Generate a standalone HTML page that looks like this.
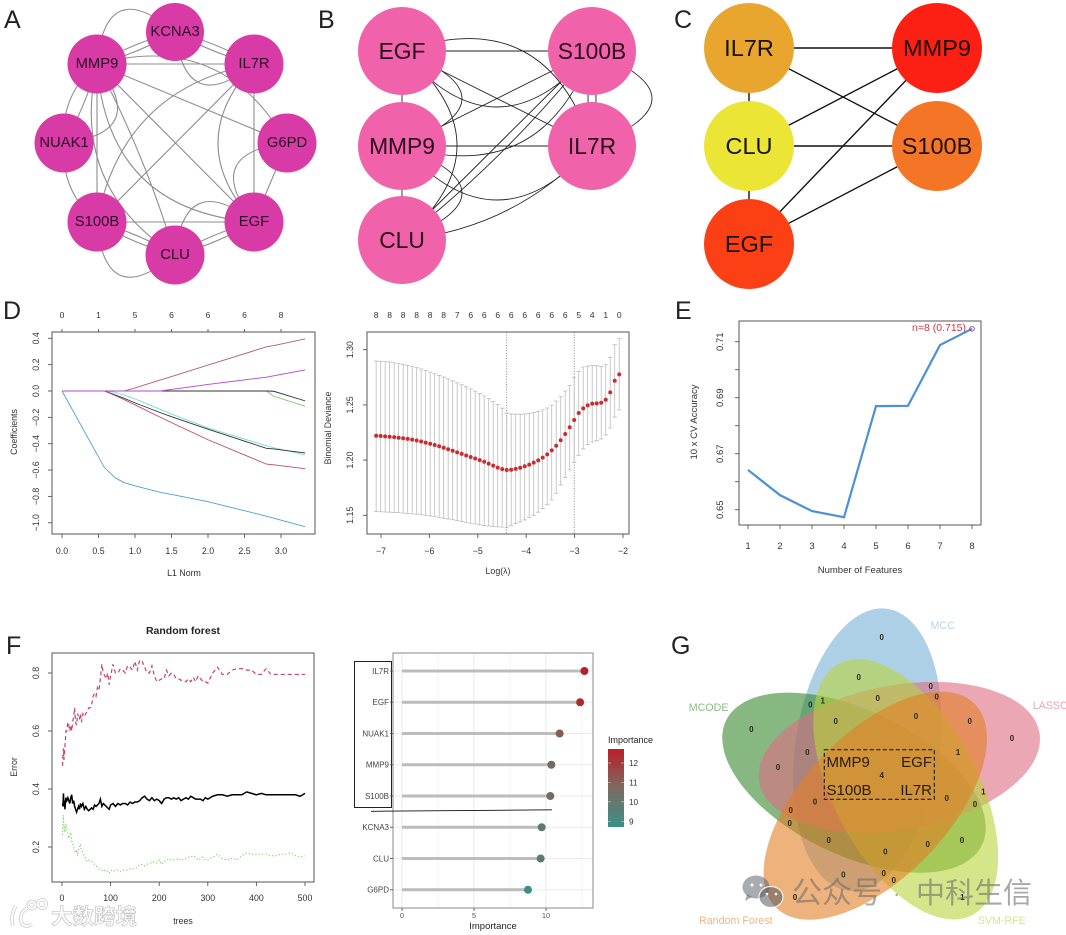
<!DOCTYPE html>
<html lang="en">
<head>
<meta charset="utf-8">
<title>Multi-panel gene analysis figure</title>
<style>
html,body{margin:0;padding:0;background:#fff;}
svg{display:block;font-family:"Liberation Sans","Noto Sans CJK SC",sans-serif;filter:blur(.3px);}
.pl{font-size:25px;fill:#222;}
.at{font-size:8.8px;fill:#333;}
.vn{font-size:8px;font-weight:bold;fill:#2a2a1a;text-anchor:middle;dominant-baseline:central;}
.vl{font-size:10.7px;}
.box{fill:none;stroke:#555;stroke-width:1;}
.nA{fill:#d83aa6;}
.nB{fill:#f062a9;}
.tA{font-size:14.8px;fill:#2c0c28;text-anchor:middle;dominant-baseline:central;}
.tB{font-size:22.8px;fill:#2a0c20;text-anchor:middle;dominant-baseline:central;}
.tC{font-size:23.5px;fill:#1c1008;text-anchor:middle;dominant-baseline:central;}
</style>
</head>
<body>
<svg id="fig" xmlns="http://www.w3.org/2000/svg" width="1066" height="935" viewBox="0 0 1066 935">
<defs>
<linearGradient id="impGrad" x1="0" y1="0" x2="0" y2="1">
<stop offset="0" stop-color="#b81f2a"/><stop offset=".5" stop-color="#7d6a62"/><stop offset="1" stop-color="#3a9088"/>
</linearGradient>
</defs>

<text class="pl" x="4" y="28">A</text>
<text class="pl" x="318" y="28">B</text>
<text class="pl" x="674" y="28">C</text>
<text class="pl" x="3" y="319">D</text>
<text class="pl" x="675" y="319">E</text>
<text class="pl" x="6" y="654">F</text>
<text class="pl" x="671" y="654">G</text>

<!-- Network A -->
<g id="netA">
<g id="edgesA"></g>
<circle class="nA" data-node="KCNA3" cx="175" cy="32" r="29"/>
<circle class="nA" data-node="MMP9" cx="97" cy="64" r="29.5"/>
<circle class="nA" data-node="IL7R" cx="254" cy="64" r="29.5"/>
<circle class="nA" data-node="NUAK1" cx="64" cy="143" r="29.5"/>
<circle class="nA" data-node="G6PD" cx="287" cy="143" r="29.5"/>
<circle class="nA" data-node="S100B" cx="97" cy="222" r="29.5"/>
<circle class="nA" data-node="EGF" cx="254" cy="222" r="29.5"/>
<circle class="nA" data-node="CLU" cx="175" cy="255" r="29.5"/>
<text class="tA" x="175" y="32">KCNA3</text>
<text class="tA" x="97" y="64">MMP9</text>
<text class="tA" x="254" y="64">IL7R</text>
<text class="tA" x="64" y="143">NUAK1</text>
<text class="tA" x="287" y="143">G6PD</text>
<text class="tA" x="97" y="222">S100B</text>
<text class="tA" x="254" y="222">EGF</text>
<text class="tA" x="175" y="255">CLU</text>
</g>

<!-- Network B -->
<g id="netB">
<g id="edgesB"></g>
<circle class="nB" data-node="EGF" cx="402" cy="51" r="44"/>
<circle class="nB" data-node="MMP9" cx="402" cy="146" r="44"/>
<circle class="nB" data-node="CLU" cx="402" cy="240" r="44"/>
<circle class="nB" data-node="S100B" cx="592" cy="51" r="44"/>
<circle class="nB" data-node="IL7R" cx="592" cy="146" r="44"/>
<text class="tB" x="402" y="51">EGF</text>
<text class="tB" x="402" y="146">MMP9</text>
<text class="tB" x="402" y="240">CLU</text>
<text class="tB" x="592" y="51">S100B</text>
<text class="tB" x="592" y="146">IL7R</text>
</g>

<!-- Network C -->
<g id="netC">
<g id="edgesC"></g>
<circle data-node="IL7R" cx="749" cy="48" r="45" fill="#e8a62e"/>
<circle data-node="CLU" cx="749" cy="146" r="45" fill="#ebe536"/>
<circle data-node="EGF" cx="749" cy="244" r="45" fill="#fb4015"/>
<circle data-node="MMP9" cx="937" cy="48" r="45" fill="#fb2013"/>
<circle data-node="S100B" cx="937" cy="146" r="45" fill="#f57527"/>
<text class="tC" x="749" y="48">IL7R</text>
<text class="tC" x="749" y="146">CLU</text>
<text class="tC" x="749" y="244">EGF</text>
<text class="tC" x="937" y="48">MMP9</text>
<text class="tC" x="937" y="146">S100B</text>
</g>

<!-- Panel D left -->
<g id="coefPlot">
<rect class="box" x="52" y="332" width="263" height="202"/>
<text class="at" transform="translate(17 432) rotate(-90)" text-anchor="middle">Coefficients</text>
<text class="at" x="184" y="576" text-anchor="middle">L1 Norm</text>
</g>

<!-- Panel D right -->
<g id="devPlot">
<rect class="box" x="367" y="332" width="262" height="202"/>
<text class="at" transform="translate(331 428) rotate(-90)" text-anchor="middle">Binomial Deviance</text>
<text class="at" x="498" y="574" text-anchor="middle">Log(λ)</text>
</g>

<!-- Panel E -->
<g id="rfePlot">
<rect class="box" x="739" y="321" width="242" height="204"/>
<text class="at" transform="translate(697 422) rotate(-90)" text-anchor="middle" style="font-size:9.5px">10 x CV Accuracy</text>
<text class="at" x="860" y="573" text-anchor="middle" style="font-size:9.5px">Number of Features</text>
<text x="966" y="331" text-anchor="end" font-size="10.5" fill="#cc3a44">n=8 (0.715)</text>
</g>

<!-- Panel F left -->
<g id="rfPlot">
<text x="183" y="634" text-anchor="middle" font-size="10.5" font-weight="bold" fill="#222">Random forest</text>
<rect class="box" x="52" y="653" width="262" height="229"/>
<text class="at" transform="translate(17 767) rotate(-90)" text-anchor="middle">Error</text>
<text class="at" x="183" y="924" text-anchor="middle">trees</text>
</g>

<!-- Panel F right -->
<g id="lolliPlot">
<g id="lolliGrid"></g>
<rect x="393" y="653" width="200" height="255" fill="none" stroke="#8a8a8a" stroke-width="1"/>
<text x="493" y="929" text-anchor="middle" font-size="9.5" fill="#222">Importance</text>
<text x="608" y="743" font-size="9" fill="#222">Importance</text>
<rect x="608" y="749" width="16" height="78" fill="url(#impGrad)"/>
<rect x="354.5" y="661.5" width="37" height="146" fill="none" stroke="#222" stroke-width="1"/>
<line x1="371" y1="811.3" x2="552" y2="809.8" stroke="#111" stroke-width=".9"/>
</g>

<!-- Panel G -->
<g id="venn">
<ellipse cx="867.3" cy="749.7" rx="142.3" ry="72.3" transform="rotate(98 867.3 749.7)" fill="#78b1d5" fill-opacity=".6"/>
<ellipse cx="854" cy="782.7" rx="142.3" ry="72.3" transform="rotate(26 854 782.7)" fill="#37892f" fill-opacity=".6"/>
<ellipse cx="899.3" cy="757.3" rx="142.3" ry="72.3" transform="rotate(-10 899.3 757.3)" fill="#de6e82" fill-opacity=".6"/>
<ellipse cx="905.7" cy="789.3" rx="142.3" ry="72.3" transform="rotate(62 905.7 789.3)" fill="#b9d43c" fill-opacity=".6"/>
<ellipse cx="875.3" cy="805.7" rx="142.3" ry="72.3" transform="rotate(-46 875.3 805.7)" fill="#e37f25" fill-opacity=".6"/>
<text class="vl" x="942.7" y="629" text-anchor="middle" fill="#b5d4e8">MCC</text>
<text class="vl" x="1032.7" y="709" fill="#eaa6b2">LASSO</text>
<text class="vl" x="688.7" y="711" fill="#8cbc88">MCODE</text>
<text class="vl" x="699" y="924" fill="#eeb680">Random Forest</text>
<text class="vl" x="977.7" y="924" fill="#d6e68c">SVM-RFE</text>
<g>
<text class="vn" x="881.7" y="637.3">0</text>
<text class="vn" x="858.7" y="677.3">0</text>
<text class="vn" x="930.7" y="686.7">0</text>
<text class="vn" x="936.7" y="697">0</text>
<text class="vn" x="877.7" y="698.7">0</text>
<text class="vn" x="810.3" y="705">0</text>
<text class="vn" x="822.7" y="701">1</text>
<text class="vn" x="835.7" y="721.7">0</text>
<text class="vn" x="916" y="716.3">0</text>
<text class="vn" x="969.7" y="721.7">0</text>
<text class="vn" x="1012" y="738.7">0</text>
<text class="vn" x="751.3" y="729.3">0</text>
<text class="vn" x="807.3" y="752.3">0</text>
<text class="vn" x="778" y="767.7">0</text>
<text class="vn" x="958" y="752.3">1</text>
<text class="vn" x="881.7" y="775.7">4</text>
<text class="vn" x="946.7" y="798.3">0</text>
<text class="vn" x="983.3" y="792">1</text>
<text class="vn" x="975" y="804.3">0</text>
<text class="vn" x="815" y="802">0</text>
<text class="vn" x="790.7" y="810.7">0</text>
<text class="vn" x="789.7" y="823.7">0</text>
<text class="vn" x="828.7" y="840.3">0</text>
<text class="vn" x="885.3" y="852">0</text>
<text class="vn" x="927.7" y="844.3">0</text>
<text class="vn" x="962" y="840.3">0</text>
<text class="vn" x="843.3" y="875">0</text>
<text class="vn" x="883.7" y="873.3">0</text>
<text class="vn" x="893.7" y="880.3">0</text>
<text class="vn" x="795" y="897.7">0</text>
<text class="vn" x="962.3" y="897.7">1</text>
</g>
<rect x="824.3" y="749.7" width="110" height="49.6" fill="none" stroke="#1a1a1a" stroke-width="1.1" stroke-dasharray="4 2.5"/>
<text x="826.5" y="767" font-size="15" fill="#2a1a08">MMP9</text>
<text x="932" y="767" font-size="15" fill="#2a1a08" text-anchor="end">EGF</text>
<text x="826.5" y="795" font-size="15" fill="#2a1a08">S100B</text>
<text x="932" y="795" font-size="15" fill="#2a1a08" text-anchor="end">IL7R</text>
</g>

<!-- Watermarks -->
<g>
<g>
<ellipse cx="756" cy="887" rx="13.5" ry="11.5" fill="#55585c" fill-opacity=".5"/>
<path d="M747 894l-2 7 7-4z" fill="#55585c" fill-opacity=".5"/>
<ellipse cx="771" cy="897" rx="12" ry="10.5" fill="#55585c" fill-opacity=".55" stroke="#fff" stroke-opacity=".85" stroke-width="1.2"/>
<circle cx="752" cy="885" r="1.5" fill="#fff"/>
<circle cx="761" cy="885" r="1.5" fill="#fff"/>
<circle cx="767" cy="894" r="1.3" fill="#fff"/>
<circle cx="776" cy="894" r="1.3" fill="#fff"/>
</g>
<text x="792" y="903" font-size="30" fill="#6e6e6e" fill-opacity=".6" font-family="'Noto Sans CJK SC',sans-serif">公众号</text>
<text x="893" y="901" font-size="22" fill="#6e6e6e" fill-opacity=".6">·</text>
<text x="916" y="903" font-size="29" fill="#6e6e6e" fill-opacity=".6" font-family="'Noto Sans CJK SC',sans-serif">中科生信</text>
</g>
<g>
<g fill="none" stroke="#cfcfcf" stroke-width="3.6">
<path d="M16 906 Q10 915 13 926"/>
<path d="M27 908 Q18 914 22 924 Q26 928 32 924"/>
<circle cx="32" cy="905" r="3.6"/>
<circle cx="42" cy="904" r="4.2"/>
</g>
<g fill="none" stroke="#fff" stroke-width="1.9">
<path d="M16 906 Q10 915 13 926"/>
<path d="M27 908 Q18 914 22 924 Q26 928 32 924"/>
<circle cx="32" cy="905" r="3.6"/>
<circle cx="42" cy="904" r="4.2"/>
</g>
<text x="51" y="924" font-size="21.5" font-weight="bold" fill="#fff" stroke="#c4c4c4" stroke-width=".7" font-family="'Noto Sans CJK SC',sans-serif">大数跨境</text>
</g>
</svg>

<script>
// ---------- Network edges: [from, to, bend] ----------
const edgesANet = [
["MMP9","KCNA3",3],["MMP9","KCNA3",-3],["MMP9","KCNA3",40],
["KCNA3","IL7R",3],["KCNA3","IL7R",-3],["KCNA3","IL7R",-38],
["MMP9","IL7R",0],["MMP9","G6PD",0],["MMP9","G6PD",40],
["MMP9","EGF",0],["MMP9","EGF",-48],["MMP9","CLU",5],["MMP9","CLU",-36],
["MMP9","S100B",0],["IL7R","EGF",0],["S100B","EGF",0],["S100B","IL7R",0],
["S100B","IL7R",38],["IL7R","EGF",-36],["G6PD","EGF",0],["G6PD","EGF",-38],
["EGF","CLU",-38],["EGF","CLU",3],["EGF","CLU",-3],
["S100B","CLU",3],["S100B","CLU",-3],["S100B","CLU",-40],
["MMP9","NUAK1",-11],["MMP9","NUAK1",3],["MMP9","NUAK1",38],["NUAK1","S100B",-11]
];
const edgesBNet = [
["EGF","MMP9",0],["MMP9","CLU",0],["EGF","S100B",0],["MMP9","IL7R",0],
["S100B","IL7R",4],["S100B","IL7R",-4],["S100B","IL7R",60],
["EGF","IL7R",0],["EGF","IL7R",54],["EGF","S100B",-56],["EGF","MMP9",60],["EGF","CLU",55],
["MMP9","S100B",0],["MMP9","S100B",-50],["MMP9","CLU",60],["MMP9","IL7R",-54],
["CLU","S100B",0],["CLU","S100B",-8],["CLU","IL7R",-20]
];
const edgesCNet = [
["IL7R","CLU",0],["CLU","EGF",0],["IL7R","MMP9",0],["CLU","S100B",0],
["CLU","MMP9",0],["IL7R","S100B",0],["EGF","MMP9",0],["EGF","S100B",0]
];

// ---------- Panel D left: LASSO coefficient paths ----------
const l1Norm =       [0, .58, .73, .85, 1.0, 1.35, 1.5, 2.0, 2.8, 2.9, 3.33];
const coefBlue =     [0,-.58,-.66,-.695,-.72,-.77,-.785,-.84,-.95,-.965,-1.03];
const coefMaroonUp = [0, 0, 0, 0, .023, .084, .11, .197, .335, .345, .395];
const coefPurple =   [0, 0, 0, 0, 0, 0, .012, .05, .105, .115, .16];
const coefGreen =    [0, 0, 0, 0, 0, 0, 0, 0, 0, -.04, -.115];
const coefBlackTop = [0, 0, 0, 0, 0, 0, 0, 0, 0, -.002, -.075];
const coefCyan =     [0, 0, -.01, -.03, -.06, -.14, -.175, -.28, -.415, -.43, -.485];
const coefBlackMid = [0, 0, -.03, -.055, -.09, -.165, -.195, -.29, -.435, -.44, -.47];
const coefMaroonLow =[0, 0, -.035, -.065, -.105, -.2, -.24, -.37, -.555, -.56, -.59];
const coefTopLabels = ["0","1","5","6","6","6","8"];
const coefXTicks = [0,.5,1,1.5,2,2.5,3];
const coefXLabels = ["0.0","0.5","1.0","1.5","2.0","2.5","3.0"];
const coefYTicks = [-1,-.8,-.6,-.4,-.2,0,.2,.4];
const coefYLabels = ["−1.0","−0.8","−0.6","−0.4","−0.2","0.0","0.2","0.4"];

// ---------- Panel D right: cross-validated deviance ----------
const logLambda = [-7.10,-7.007,-6.914,-6.821,-6.728,-6.635,-6.542,-6.449,-6.356,-6.263,-6.17,-6.077,-5.984,-5.891,-5.798,-5.705,-5.612,-5.519,-5.426,-5.333,-5.24,-5.147,-5.054,-4.961,-4.868,-4.775,-4.682,-4.589,-4.496,-4.403,-4.31,-4.217,-4.124,-4.031,-3.938,-3.845,-3.752,-3.659,-3.566,-3.473,-3.38,-3.287,-3.194,-3.101,-3.008,-2.915,-2.822,-2.729,-2.636,-2.543,-2.45,-2.357,-2.264,-2.171,-2.078];
const devMean = [1.222,1.2218,1.2215,1.2212,1.2208,1.2203,1.2198,1.2192,1.2185,1.2177,1.2168,1.2158,1.2148,1.2137,1.2125,1.2112,1.2098,1.2085,1.207,1.2056,1.2042,1.2028,1.2014,1.2,1.1985,1.1968,1.195,1.1932,1.1918,1.191,1.1913,1.192,1.1931,1.1944,1.1959,1.1977,1.1998,1.2022,1.2052,1.2088,1.213,1.218,1.2236,1.2297,1.2363,1.2427,1.2469,1.2496,1.2511,1.2514,1.252,1.2547,1.2614,1.2719,1.2777];
const devUpper = [1.2897,1.2895,1.2892,1.2888,1.2882,1.2875,1.2867,1.2858,1.2848,1.2837,1.2825,1.2812,1.2797,1.2782,1.2767,1.2752,1.2735,1.2718,1.27,1.2682,1.2664,1.2645,1.2625,1.2604,1.2582,1.2558,1.2532,1.2505,1.247,1.2425,1.2418,1.2416,1.2416,1.2418,1.2424,1.2432,1.2442,1.2455,1.2472,1.2497,1.2535,1.2574,1.2626,1.2677,1.2746,1.2804,1.2843,1.2852,1.2858,1.2855,1.2846,1.2864,1.2931,1.3045,1.31];
const devLower = [1.1533,1.1532,1.153,1.1528,1.1526,1.1524,1.152,1.1517,1.1513,1.151,1.1505,1.15,1.1494,1.1488,1.1481,1.1474,1.1467,1.146,1.1452,1.1444,1.1436,1.1428,1.1421,1.1414,1.1408,1.1403,1.1398,1.1395,1.1393,1.1393,1.1405,1.1425,1.144,1.1458,1.1478,1.15,1.1528,1.156,1.1595,1.164,1.17,1.1775,1.1844,1.191,1.198,1.2043,1.2101,1.214,1.2164,1.2176,1.2191,1.2227,1.2291,1.239,1.2454];
const devTopLabels = ["8","8","8","8","8","8","7","6","6","6","6","6","6","6","6","5","4","1","0"];
const devVLines = [-4.403,-3.008];
const devXTicks = [-7,-6,-5,-4,-3,-2];
const devXLabels = ["−7","−6","−5","−4","−3","−2"];
const devYTicks = [1.15,1.2,1.25,1.3];
const devYLabels = ["1.15","1.20","1.25","1.30"];

// ---------- Panel E: SVM-RFE ----------
const rfeFeatures = [1,2,3,4,5,6,7,8];
const rfeAccuracy = [.6642,.6552,.6495,.6473,.687,.6871,.7088,.7146];
const rfeYTicks = [.65,.66,.67,.68,.69,.70,.71];
const rfeYLabels = ["0.65","","0.67","","0.69","","0.71"];

// ---------- Panel F left: random forest error ----------
const rfTrees = [1,2,3,4,5,6,7,8,
10,12,14,16,18,20,22,24,26,28,30,32,34,36,38,40,
43,46,49,52,55,58,61,64,67,70,73,76,79,82,85,88,91,94,97,100,
105,110,115,120,125,130,135,140,145,150,155,160,165,170,175,180,185,190,195,200,205,210,215,220,225,230,235,240,245,250,255,260,265,270,275,280,285,290,295,300,
310,320,330,340,350,360,370,380,390,400,410,420,430,440,450,460,470,480,490,500];
const rfErrRed = [.48,.52,.54,.50,.52,.55,.57,.60,
.60,.63,.62,.60,.62,.60,.63,.65,.68,.63,.62,.66,.65,.64,.66,.63,
.66,.65,.66,.67,.68,.68,.69,.72,.73,.72,.75,.74,.78,.83,.80,.79,.78,.80,.76,.79,
.83,.80,.80,.815,.81,.80,.825,.82,.81,.84,.81,.845,.84,.82,.80,.80,.825,.79,.77,.775,.78,.78,.81,.79,.80,.795,.78,.78,.775,.775,.77,.78,.77,.785,.77,.79,.78,.77,.77,.765,
.80,.82,.795,.795,.81,.815,.815,.81,.81,.795,.795,.815,.795,.795,.795,.795,.795,.795,.795,.795];
const rfErrOob = [.35,.34,.385,.34,.36,.33,.35,.37,
.36,.37,.36,.35,.37,.38,.35,.36,.34,.33,.32,.33,.34,.33,.35,.34,
.35,.33,.34,.33,.325,.33,.335,.33,.345,.34,.345,.35,.365,.34,.35,.345,.34,.335,.33,.345,
.35,.34,.35,.345,.35,.35,.345,.355,.35,.355,.355,.36,.37,.375,.365,.36,.37,.36,.365,.36,.35,.365,.37,.37,.365,.37,.365,.37,.36,.365,.37,.365,.375,.37,.365,.365,.365,.36,.37,.365,
.375,.38,.38,.375,.38,.38,.38,.39,.385,.38,.385,.38,.38,.38,.38,.38,.38,.38,.375,.385];
const rfErrGreen = [.24,.29,.31,.26,.27,.25,.26,.28,
.26,.25,.23,.24,.25,.22,.21,.20,.19,.18,.19,.17,.19,.20,.21,.19,
.18,.17,.16,.15,.155,.15,.15,.145,.14,.135,.13,.125,.12,.12,.115,.12,.12,.115,.11,.12,
.115,.12,.12,.115,.12,.12,.12,.125,.125,.125,.13,.14,.14,.135,.14,.145,.145,.15,.145,.155,.14,.15,.155,.16,.155,.155,.16,.155,.16,.155,.16,.165,.165,.17,.165,.155,.16,.165,.155,.155,
.165,.175,.16,.155,.16,.155,.17,.18,.175,.175,.175,.175,.17,.17,.175,.175,.18,.17,.165,.17];
const rfXTicks = [0,100,200,300,400,500];
const rfYTicks = [.2,.4,.6,.8];
const rfYLabels = ["0.2","0.4","0.6","0.8"];

// ---------- Panel F right: importance ----------
const impGenes = ["IL7R","EGF","NUAK1","MMP9","S100B","KCNA3","CLU","G6PD"];
const impValues = [12.67,12.37,10.95,10.37,10.3,9.7,9.63,8.75];
const impXTicks = [0,5,10];
const impMinorTicks = [2.5,7.5,12.5];
const impLegendTicks = [9,10,11,12];

// ---------- helpers ----------
const NS = "http://www.w3.org/2000/svg";
function scale(d0, d1, r0, r1){ return v => r0 + (v - d0) * (r1 - r0) / (d1 - d0); }
function make(parent, tag, attrs, txt){
  const e = document.createElementNS(NS, tag);
  for (const k in attrs) e.setAttribute(k, attrs[k]);
  if (txt !== undefined) e.textContent = txt;
  parent.appendChild(e);
  return e;
}
function tick(g, x1, y1, x2, y2){
  const t = make(g, "line", {x1, y1, x2, y2, stroke: "#555", "stroke-width": .9});
  
  
}
function tickLabel(g, x, y, str, size, rotated, fill){
  const attrs = {"text-anchor": "middle", "font-size": size, fill: fill || "#333"};
  if (rotated) attrs.transform = "translate(" + x + " " + y + ") rotate(-90)";
  else { attrs.x = x; attrs.y = y; }
  const t = make(g, "text", attrs, str);
  
  
}
function linePath(xs, ys, fx, fy){
  return xs.map((v, i) => (i ? "L" : "M") + fx(v).toFixed(2) + " " + fy(ys[i]).toFixed(2)).join("");
}

// ---------- networks ----------
function drawNet(netId, edgeId, edges, stroke, width){
  const net = document.getElementById(netId), g = document.getElementById(edgeId), pos = {};
  net.querySelectorAll("circle[data-node]").forEach(c => {
    pos[c.getAttribute("data-node")] = [+c.getAttribute("cx"), +c.getAttribute("cy")];
  });
  edges.forEach(ed => {
    const a = pos[ed[0]], b = pos[ed[1]];
    const dx = b[0] - a[0], dy = b[1] - a[1], len = Math.hypot(dx, dy);
    const cx = (a[0] + b[0]) / 2 + 2 * ed[2] * dy / len;
    const cy = (a[1] + b[1]) / 2 - 2 * ed[2] * dx / len;
    const p = make(g, "path", {d: "M" + a[0] + " " + a[1] + "Q" + cx + " " + cy + " " + b[0] + " " + b[1], fill: "none", stroke, "stroke-width": width});
    
    
  });
}
drawNet("netA", "edgesA", edgesANet, "#8e8e8e", 1.1);
drawNet("netB", "edgesB", edgesBNet, "#222", .9);
drawNet("netC", "edgesC", edgesCNet, "#111", 1.4);

// ---------- coefficient plot ----------
(function(){
  const g = document.getElementById("coefPlot");
  const x = scale(0, 3, 62, 281), y = scale(0, .4, 391, 338.3);
  coefXTicks.forEach((v, i) => {
    tick(g, x(v), 534, x(v), 538);
    tickLabel(g, x(v), 554, coefXLabels[i], 8.8);
  });
  coefTopLabels.forEach((s, i) => {
    const tx = x(coefXTicks[i]);
    tick(g, tx, 332, tx, 329);
    tickLabel(g, tx, 318, s, 8.5);
  });
  coefYTicks.forEach((v, i) => {
    tick(g, 52, y(v), 48, y(v));
    tickLabel(g, 39, y(v), coefYLabels[i], 8.8, true);
  });
  const seriesList = [coefGreen, coefBlackTop, coefCyan, coefBlackMid, coefMaroonLow, coefBlue, coefMaroonUp, coefPurple];
  const colors = ["#78cc5c", "#333", "#7adada", "#333", "#bd4a68", "#4f9fd0", "#b05a80", "#b048c8"];
  seriesList.forEach((s, i) => {
    const p = make(g, "path", {d: linePath(l1Norm, s, x, y), fill: "none", stroke: colors[i], "stroke-width": .9});
    
    
  });
})();

// ---------- deviance plot ----------
(function(){
  const g = document.getElementById("devPlot");
  const x = scale(-7, -2, 381, 623), y = scale(1.15, 1.3, 515.3, 349.7);
  devXTicks.forEach((v, i) => {
    tick(g, x(v), 534, x(v), 538);
    tickLabel(g, x(v), 554, devXLabels[i], 8.8);
  });
  devYTicks.forEach((v, i) => {
    tick(g, 367, y(v), 363, y(v));
    tickLabel(g, 353, y(v), devYLabels[i], 8.8, true);
  });
  devTopLabels.forEach((s, i) => {
    tickLabel(g, x(logLambda[i * 3]), 318, s, 8.5);
  });
  devVLines.forEach(v => {
    const l = make(g, "line", {x1: x(v), y1: 332, x2: x(v), y2: 534, stroke: "#666", "stroke-width": .8, "stroke-dasharray": "1 1.6"});
    
    
  });
  logLambda.forEach((v, i) => {
    const cx = x(v);
    const bar = make(g, "path", {
      d: "M" + cx + " " + y(devLower[i]) + "V" + y(devUpper[i]) +
         "M" + (cx - 2.2) + " " + y(devLower[i]) + "h4.4M" + (cx - 2.2) + " " + y(devUpper[i]) + "h4.4",
      fill: "none", stroke: "#bcbcbc", "stroke-width": .8});
    
    
  });
  logLambda.forEach((v, i) => {
    const c = make(g, "circle", {cx: x(v), cy: y(devMean[i]), r: 2, fill: "#cb2b30"});
    
    
  });
})();

// ---------- RFE plot ----------
(function(){
  const g = document.getElementById("rfePlot");
  const x = scale(1, 8, 748, 972), y = scale(.65, .71, 509.7, 341.7);
  rfeFeatures.forEach(v => {
    tick(g, x(v), 525, x(v), 529);
    tickLabel(g, x(v), 549, String(v), 9.5);
  });
  rfeYTicks.forEach((v, i) => {
    tick(g, 739, y(v), 735, y(v));
    if (rfeYLabels[i]) tickLabel(g, 723, y(v), rfeYLabels[i], 9.5, true);
  });
  const p = make(g, "path", {d: linePath(rfeFeatures, rfeAccuracy, x, y), fill: "none", stroke: "#4b90d8", "stroke-width": 2.2});
  
  
  const last = rfeFeatures.length - 1;
  const c = make(g, "circle", {cx: x(rfeFeatures[last]), cy: y(rfeAccuracy[last]), r: 2.3, fill: "none", stroke: "#8a3fa0", "stroke-width": .9});
  
  
})();

// ---------- random forest ----------
(function(){
  const g = document.getElementById("rfPlot");
  const x = scale(0, 500, 62, 305), y = scale(.2, .8, 847, 673);
  rfXTicks.forEach(v => {
    tick(g, x(v), 882, x(v), 886);
    tickLabel(g, x(v), 901, String(v), 8.8);
  });
  rfYTicks.forEach((v, i) => {
    tick(g, 52, y(v), 48, y(v));
    tickLabel(g, 39, y(v), rfYLabels[i], 8.8, true);
  });
  const red = make(g, "path", {d: linePath(rfTrees, rfErrRed, x, y), fill: "none", stroke: "#c5446b", "stroke-width": 1.2, "stroke-dasharray": "4 3"});
  
  
  const green = make(g, "path", {d: linePath(rfTrees, rfErrGreen, x, y), fill: "none", stroke: "#78d060", "stroke-width": 1.1, "stroke-dasharray": "1.2 2.2"});
  
  
  const oob = make(g, "path", {d: linePath(rfTrees, rfErrOob, x, y), fill: "none", stroke: "#000", "stroke-width": 1.5});
  
  
})();

// ---------- lollipop ----------
(function(){
  const g = document.getElementById("lolliPlot"), grid = document.getElementById("lolliGrid");
  const x = scale(0, 10, 402, 546);
  const rowY = i => 671 + i * 31.25;
  function mix(a, b, t){ return a.map((v, i) => Math.round(v + (b[i] - v) * t)); }
  function colorFor(v){
    const lo = [56, 144, 136], mid = [128, 100, 88], hi = [184, 30, 40];
    const c = v < 10.7 ? mix(lo, mid, Math.max(0, (v - 8.75) / 1.95)) : mix(mid, hi, Math.min(1, (v - 10.7) / 2));
    return "rgb(" + c.join(",") + ")";
  }
  impMinorTicks.forEach(v => {
    const l = make(grid, "line", {x1: x(v), y1: 653, x2: x(v), y2: 908, stroke: "#f1f1f1", "stroke-width": .8});
    
    
  });
  impXTicks.forEach(v => {
    const l = make(grid, "line", {x1: x(v), y1: 653, x2: x(v), y2: 908, stroke: "#ebebeb", "stroke-width": 1});
    
    
    tick(g, x(v), 908, x(v), 911);
    tickLabel(g, x(v), 918, String(v), 7.5, false, "#555");
  });
  impGenes.forEach((name, i) => {
    const gl = make(grid, "line", {x1: 393, y1: rowY(i), x2: 593, y2: rowY(i), stroke: "#ebebeb", "stroke-width": 1});
    
    
    const stem = make(g, "line", {x1: x(0), y1: rowY(i), x2: x(impValues[i]), y2: rowY(i), stroke: "#bcbcbc", "stroke-width": 3});
    
    
    const dot = make(g, "circle", {cx: x(impValues[i]), cy: rowY(i), r: 4, fill: colorFor(impValues[i])});
    
    
    const lab = make(g, "text", {x: 389, y: rowY(i) + 2.8, "text-anchor": "end", "font-size": 8, fill: "#444"}, name);
    
    
    tick(g, 390, rowY(i), 393, rowY(i));
  });
  const ly = scale(9, 12, 821.3, 763);
  impLegendTicks.forEach(v => {
    const t = make(g, "text", {x: 629, y: ly(v) + 3, "font-size": 8.2, fill: "#333"}, String(v));
    
    
    const m = make(g, "path", {d: "M608 " + ly(v) + "h3M621 " + ly(v) + "h3", stroke: "#fff", "stroke-opacity": .6, "stroke-width": .7});
    
    
  });
})();
</script>
</body>
</html>
